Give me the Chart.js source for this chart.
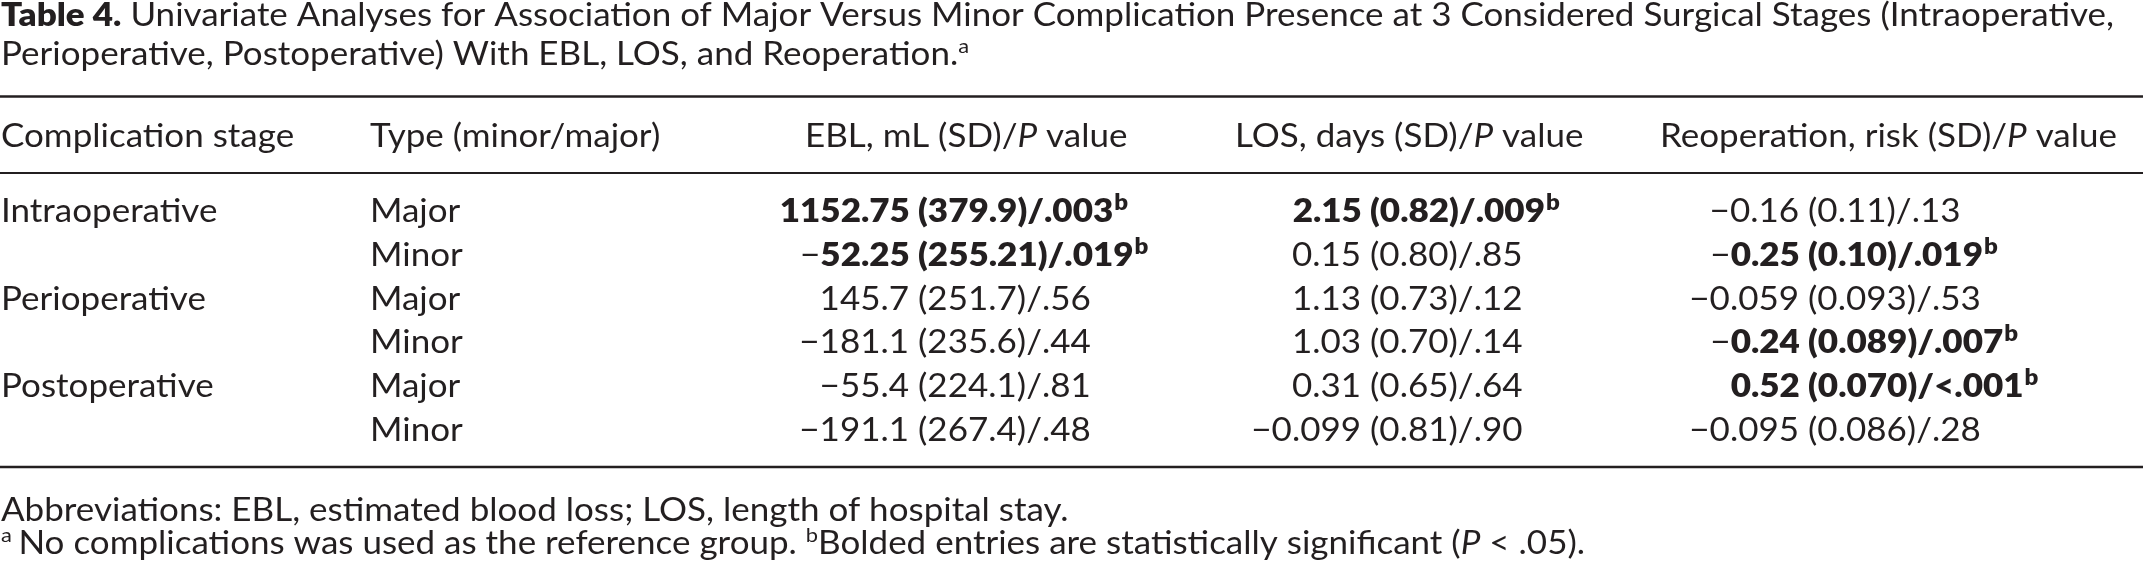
<!DOCTYPE html>
<html>
<head>
<meta charset="utf-8">
<script src="https://cdn.jsdelivr.net/npm/chart.js@4.4.1/dist/chart.umd.min.js"></script>
<style>
html,body{margin:0;padding:0;background:#ffffff;}
#wrap{width:2143px;height:563px;position:relative;}
</style>
</head>
<body>
<div id="wrap"><canvas id="c"></canvas></div>
<script>
// ---------------- DATA ----------------
const titleBold = "Table 4.";
const titleLine1 = " Univariate Analyses for Association of Major Versus Minor Complication Presence at 3 Considered Surgical Stages (Intraoperative,";
const titleLine2 = "Perioperative, Postoperative) With EBL, LOS, and Reoperation.";
const titleNote = "a";
const columnHeaders = ["Complication stage", "Type (minor/major)", "EBL, mL (SD)/P value", "LOS, days (SD)/P value", "Reoperation, risk (SD)/P value"];
const stages = ["Intraoperative", "", "Perioperative", "", "Postoperative", ""];
const types = ["Major", "Minor", "Major", "Minor", "Major", "Minor"];

const eblEstimate = ["1152.75", "−52.25", "145.7", "−181.1", "−55.4", "−191.1"];
const eblSD = ["379.9", "255.21", "251.7", "235.6", "224.1", "267.4"];
const eblP = [".003", ".019", ".56", ".44", ".81", ".48"];
const eblSignificant = [true, true, false, false, false, false];

const losEstimate = ["2.15", "0.15", "1.13", "1.03", "0.31", "−0.099"];
const losSD = ["0.82", "0.80", "0.73", "0.70", "0.65", "0.81"];
const losP = [".009", ".85", ".12", ".14", ".64", ".90"];
const losSignificant = [true, false, false, false, false, false];

const reopEstimate = ["−0.16", "−0.25", "−0.059", "−0.24", "0.52", "−0.095"];
const reopSD = ["0.11", "0.10", "0.093", "0.089", "0.070", "0.086"];
const reopP = [".13", ".019", ".53", ".007", "<.001", ".28"];
const reopSignificant = [false, true, false, true, true, false];

const footAbbrev = "Abbreviations: EBL, estimated blood loss; LOS, length of hospital stay.";
const footA = "No complications was used as the reference group. ";
const footB = "Bolded entries are statistically significant (";
const footBEnd = " < .05).";

// ---------------- LAYOUT / STYLE ----------------
const FAMILY = "Lato, 'Open Sans', sans-serif";
const SIZE = 32;
const SUP = 20;
const SUP_RAISE = 12;
const BOLD = "800";
const INK = "#231f20";
const rowCount = types.length;
// column anchors on the x scale (left edge, or the "(" for numeric columns)
const colAnchors = [1, 370, 918, 1370, 1808];
const headerLeft = [1, 370, 805, 1235, 1660];

function fontOf(r){
  return (r.i ? "italic " : "") + (r.b ? BOLD + " " : "") + (r.sup ? (r.supSize || SUP) : SIZE) + "px " + FAMILY;
}
function runsWidth(ctx, runs){
  let w = 0;
  for (const r of runs){ ctx.font = fontOf(r); w += ctx.measureText(r.t).width + (r.gapAfter || 0); }
  return w;
}
function drawRuns(ctx, runs, x, y, sx){
  ctx.save();
  ctx.translate(x, y);
  ctx.scale(sx, 1);
  let cx = 0;
  for (const r of runs){
    ctx.font = fontOf(r);
    ctx.fillText(r.t, cx, r.sup ? -SUP_RAISE : 0);
    cx += ctx.measureText(r.t).width + (r.gapAfter || 0);
  }
  ctx.restore();
}
function headerRuns(h){
  const k = h.indexOf("/P ");
  if (k < 0) return [{t:h}];
  return [{t:h.slice(0, k + 1)}, {t:"P", i:true}, {t:h.slice(k + 2)}];
}
// returns {pre: runs before "(", post: runs from "("}
function cellRuns(est, sd, p, sig){
  const pre = [];
  let e = est;
  if (e.startsWith("−")){ pre.push({t:"−"}); e = e.slice(1); }
  pre.push({t:e + " ", b:sig});
  const post = [{t:"(" + sd + ")/" + p, b:sig, gapAfter: sig ? 1 : 0}];
  if (sig) post.push({t:"b", sup:true, b:true, supSize:22});
  return {pre, post};
}

const numericCols = [
  [eblEstimate, eblSD, eblP, eblSignificant],
  [losEstimate, losSD, losP, losSignificant],
  [reopEstimate, reopSD, reopP, reopSignificant]
];

function pointsFor(col){
  const pts = [];
  for (let i = 0; i < rowCount; i++) pts.push({x: colAnchors[col], y: i});
  return pts;
}

const tablePlugin = {
  id: "tableText",
  afterDraw(chart){
    const ctx = chart.ctx;
    const area = chart.chartArea;
    ctx.save();
    ctx.fillStyle = INK;
    ctx.strokeStyle = INK;
    ctx.textBaseline = "alphabetic";
    ctx.textAlign = "left";

    // calibration of horizontal glyph scale (source face is narrower)
    const sxBody = 457 / runsWidth(ctx, headerRuns(columnHeaders[4]));
    const t1 = [{t:titleBold, b:true}, {t:titleLine1}];
    const sxTitle = 2113 / runsWidth(ctx, t1);

    // title
    drawRuns(ctx, t1, 1, 26, sxTitle);
    drawRuns(ctx, [{t:titleLine2}, {t:titleNote, sup:true}], 1, 65, sxTitle);

    // rules
    ctx.lineWidth = 2.6;
    ctx.beginPath(); ctx.moveTo(area.left, 96.5); ctx.lineTo(area.right, 96.5); ctx.stroke();
    ctx.lineWidth = 2;
    ctx.beginPath(); ctx.moveTo(area.left, area.top); ctx.lineTo(area.right, area.top); ctx.stroke();
    ctx.lineWidth = 2.6;
    ctx.beginPath(); ctx.moveTo(area.left, area.bottom); ctx.lineTo(area.right, area.bottom); ctx.stroke();

    // headers
    const xs = chart.scales.x;
    for (let c = 0; c < columnHeaders.length; c++){
      drawRuns(ctx, headerRuns(columnHeaders[c]), xs.getPixelForValue(headerLeft[c]), 147, sxBody);
    }

    // body cells from dataset element positions
    const metaStage = chart.getDatasetMeta(0).data;
    const metaType = chart.getDatasetMeta(1).data;
    for (let i = 0; i < rowCount; i++){
      if (stages[i]) drawRuns(ctx, [{t:stages[i]}], metaStage[i].x, metaStage[i].y, sxBody);
      drawRuns(ctx, [{t:types[i]}], metaType[i].x, metaType[i].y, sxBody);
    }
    for (let c = 0; c < numericCols.length; c++){
      const [est, sd, p, sig] = numericCols[c];
      const els = chart.getDatasetMeta(2 + c).data;
      for (let i = 0; i < rowCount; i++){
        const cr = cellRuns(est[i], sd[i], p[i], sig[i]);
        const preW = runsWidth(ctx, cr.pre) * sxBody;
        drawRuns(ctx, cr.pre.concat(cr.post), els[i].x - preW, els[i].y, sxBody);
      }
    }

    // footnotes
    drawRuns(ctx, [{t:footAbbrev}], 1, 521, sxBody);
    drawRuns(ctx, [{t:"a", sup:true, gapAfter:6}, {t:footA}, {t:"b", sup:true}, {t:footB}, {t:"P", i:true}, {t:footBEnd}], 1, 554, sxBody);
    ctx.restore();
  }
};

const datasets = [0,1,2,3,4].map(c => ({
  label: columnHeaders[c],
  data: pointsFor(c),
  pointRadius: 0,
  pointHoverRadius: 0,
  showLine: false
}));

new Chart(document.getElementById("c"), {
  type: "scatter",
  data: { datasets },
  options: {
    responsive: true,
    maintainAspectRatio: false,
    animation: false,
    events: [],
    layout: { padding: { top: 173, bottom: 96, left: 0, right: 0 } },
    plugins: { legend: { display: false }, tooltip: { enabled: false }, title: { display: false } },
    scales: {
      x: { type: "linear", min: 0, max: 2143, display: false },
      y: { type: "linear", reverse: true, min: -1.12, max: 5.6, display: false }
    }
  },
  plugins: [tablePlugin]
});
</script>
</body>
</html>
